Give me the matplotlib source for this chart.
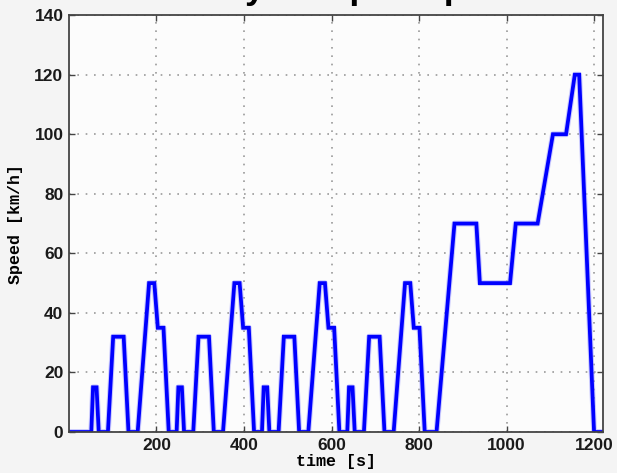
import matplotlib
matplotlib.use('Agg')
from matplotlib import pyplot as plt

# NEDC speed trace: 40 s warm-up idle, 4 x ECE-15 urban cycles, then EUDC
time_s = [0, 40,
          51, 55, 63, 68, 89, 101, 125, 136, 157, 183, 195, 203, 216, 228, 235,
          246, 250, 258, 263, 284, 296, 320, 331, 352, 378, 390, 398, 411, 423, 430,
          441, 445, 453, 458, 479, 491, 515, 526, 547, 573, 585, 593, 606, 618, 625,
          636, 640, 648, 653, 674, 686, 710, 721, 742, 768, 780, 788, 801, 813, 820,
          840, 881, 931, 939, 1008, 1021, 1071, 1106, 1136, 1156, 1166, 1200, 1220]
speed_kmh = [0, 0,
             0, 15, 15, 0, 0, 32, 32, 0, 0, 50, 50, 35, 35, 0, 0,
             0, 15, 15, 0, 0, 32, 32, 0, 0, 50, 50, 35, 35, 0, 0,
             0, 15, 15, 0, 0, 32, 32, 0, 0, 50, 50, 35, 35, 0, 0,
             0, 15, 15, 0, 0, 32, 32, 0, 0, 50, 50, 35, 35, 0, 0,
             0, 70, 70, 50, 50, 70, 70, 100, 100, 120, 120, 0, 0]
x_ticks = [200, 400, 600, 800, 1000, 1200]
y_ticks = [0, 20, 40, 60, 80, 100, 120, 140]

fig = plt.figure(dpi=100, figsize=(6.17, 4.73), facecolor='#f4f4f4')
ax = fig.add_axes([0.1118, 0.0867, 0.977 - 0.1118, 0.968 - 0.0867])
ax.set_facecolor('#fcfcfc')

# soft halo under the trace, then the trace itself
ax.plot(time_s, speed_kmh, color='#9999ff', lw=4.2, alpha=0.5)
ax.plot(time_s, speed_kmh, color='#0000ff', lw=2.7, solid_joinstyle='miter')

ax.set_xlim(0, 1220)
ax.set_ylim(0, 140)
ax.set_xticks(x_ticks)
ax.set_yticks(y_ticks)
ax.grid(True, linestyle=(0, (1, 4)), color='#9a9a9a', lw=1.2)
ax.tick_params(axis='both', direction='in', top=True, right=True,
               length=4, width=1, color='#444444', labelsize=12.5, pad=4)
for lab in ax.get_xticklabels() + ax.get_yticklabels():
    lab.set_fontweight('bold')
    lab.set_family('Liberation Sans')
    lab.set_color('#1a1a1a')
for sp in ax.spines.values():
    sp.set_color('#444444')
    sp.set_linewidth(1.3)

ax.set_xlabel('time [s]', family='Liberation Mono', fontweight='bold',
              fontsize=12, labelpad=1)
ax.set_ylabel('Speed [km/h]', family='Liberation Mono', fontweight='bold',
              fontsize=12, labelpad=8)
fig.text(0.54, 1.004, 'NEDC cycle Speed profile', ha='center', va='baseline',
         fontsize=26, fontweight='bold', family='Liberation Sans')

plt.savefig('out.png', dpi=100, facecolor=fig.get_facecolor())
